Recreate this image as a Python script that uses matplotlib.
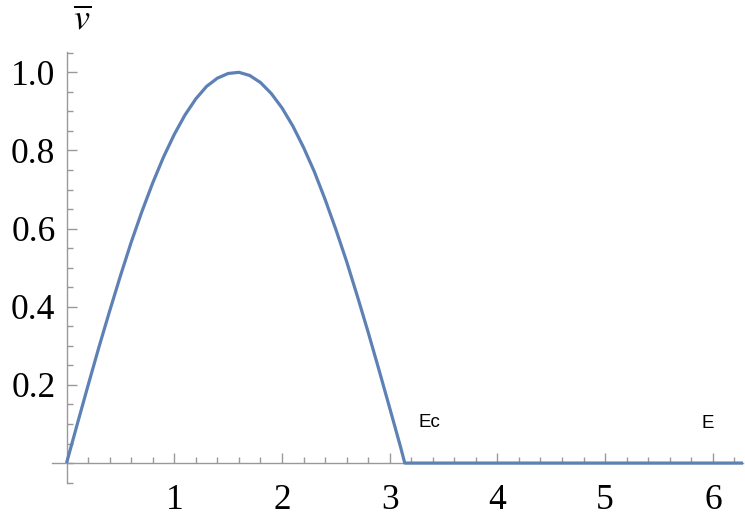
import matplotlib
matplotlib.use('Agg')
import matplotlib.pyplot as plt
from matplotlib.ticker import MultipleLocator, FixedLocator

# curve
x_vals = [0.0, 0.1, 0.2, 0.3, 0.4, 0.5, 0.6, 0.7, 0.8, 0.9, 1.0, 1.1, 1.2, 1.3, 1.4,
          1.5, 1.6, 1.7, 1.8, 1.9, 2.0, 2.1, 2.2, 2.3, 2.4, 2.5, 2.6, 2.7, 2.8, 2.9,
          3.0, 3.1, 3.14, 6.28]
y_vals = [0.000, 0.100, 0.199, 0.296, 0.389, 0.479, 0.565, 0.644, 0.717, 0.783, 0.841,
          0.891, 0.932, 0.964, 0.985, 0.997, 1.000, 0.992, 0.974, 0.946, 0.909, 0.863,
          0.808, 0.746, 0.675, 0.598, 0.516, 0.427, 0.335, 0.239, 0.141, 0.042, 0.000, 0.000]

x_ticks = [1, 2, 3, 4, 5, 6]
y_ticks = [0.2, 0.4, 0.6, 0.8, 1.0]
x_tick_labels = ['1', '2', '3', '4', '5', '6']
y_tick_labels = ['0.2', '0.4', '0.6', '0.8', '1.0']

labels = ['Ec', 'E']
label_x = [3.37, 5.95]
label_y = [0.105, 0.10]

plt.rcParams['mathtext.fontset'] = 'stix'

fig = plt.figure(figsize=(7.45, 5.16), dpi=100)
ax = fig.add_axes([52 / 745, 33 / 516, 691 / 745, 431 / 516])

ax.plot(x_vals, y_vals, color='#5E81B5', lw=2.3, solid_capstyle='butt', clip_on=False, zorder=3)

ax.set_xlim(-0.135, 6.28)
ax.set_ylim(-0.051, 1.052)

for s in ['top', 'right']:
    ax.spines[s].set_visible(False)
ax.spines['left'].set_position(('data', 0))
ax.spines['bottom'].set_position(('data', 0))
for s in ['left', 'bottom']:
    ax.spines[s].set_color('#999999')
    ax.spines[s].set_linewidth(1.0)

ax.xaxis.set_major_locator(FixedLocator(x_ticks))
ax.yaxis.set_major_locator(FixedLocator(y_ticks))
ax.set_xticklabels(x_tick_labels)
ax.set_yticklabels(y_tick_labels)
ax.xaxis.set_minor_locator(MultipleLocator(0.2))
ax.yaxis.set_minor_locator(MultipleLocator(0.05))

ax.tick_params(which='both', direction='in', color='#999999', width=1.0)
ax.tick_params(which='major', length=7)
ax.tick_params(which='minor', length=4)
ax.tick_params(axis='x', which='major', pad=15)
ax.tick_params(axis='y', which='major', pad=8)
for t in ax.get_xticklabels() + ax.get_yticklabels():
    t.set_fontfamily('Liberation Serif')
    t.set_fontsize(25.5)

for lab, lx, ly in zip(labels, label_x, label_y):
    ax.text(lx, ly, lab, fontsize=13.5, family='Liberation Sans', ha='center', va='center')

fig.text(82 / 745, 1 - 19 / 516, r'$\overline{v}$', fontsize=26, ha='center', va='center')

fig.savefig('out.png', dpi=100)
